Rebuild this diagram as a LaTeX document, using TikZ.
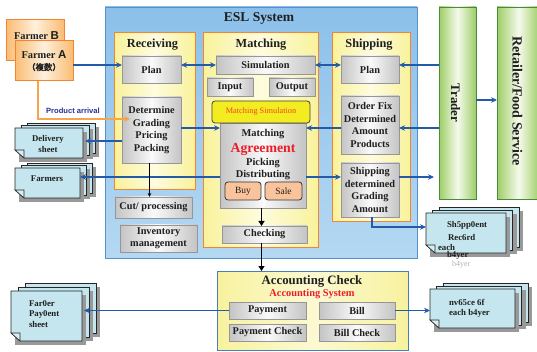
\documentclass[tikz,border=0pt]{standalone}
\usepackage{fontspec}
\setmainfont{Liberation Serif}
\newfontfamily\hsans{Liberation Sans}
\newfontfamily\cjk[AutoFakeBold=2]{Noto Sans CJK JP}
\usetikzlibrary{arrows.meta,calc}
\definecolor{eslblue}{RGB}{140,192,234}
\definecolor{eslblue2}{RGB}{180,216,242}
\definecolor{eslborder}{RGB}{85,145,205}
\definecolor{pyellow}{RGB}{249,242,155}
\definecolor{pyellowc}{RGB}{254,252,222}
\definecolor{porange}{RGB}{242,132,50}
\definecolor{gedge}{RGB}{196,196,196}
\definecolor{gmid}{RGB}{250,250,250}
\definecolor{gborder}{RGB}{150,150,150}
\definecolor{arrblue}{RGB}{35,90,170}
\definecolor{gredge}{RGB}{158,205,102}
\definecolor{grmid}{RGB}{245,250,236}
\definecolor{grborder}{RGB}{70,140,60}
\definecolor{farmedge}{RGB}{249,188,115}
\definecolor{farmmid}{RGB}{254,240,220}
\definecolor{docfill}{RGB}{197,230,238}
\definecolor{simyellow}{RGB}{243,236,32}
\definecolor{buyfill}{RGB}{249,196,155}
\definecolor{redtxt}{RGB}{235,30,40}
\definecolor{simred}{RGB}{240,70,30}
\definecolor{acctfill}{RGB}{247,242,158}
\definecolor{acctmid}{RGB}{252,249,210}
\definecolor{acctborder}{RGB}{75,125,190}
\definecolor{prodblue}{RGB}{40,50,150}
\definecolor{orangeline}{RGB}{247,165,75}
\newcommand\myfs[2]{\fontsize{#1}{#2}\selectfont\bfseries}
\newcommand\DocStack[6]{%
  \foreach \k in {2,1}{%
    \fill[black!40] ({#1+\k*#5+4},{#2+\k*#6+4}) rectangle ({#3+\k*#5+4},{#4+\k*#6+4});
    \filldraw[docpage] ({#1+\k*#5},{#2+\k*#6}) rectangle ({#3+\k*#5},{#4+\k*#6});
  }
  \fill[black!40] ({#1+4},{#2+4}) rectangle ({#3+4},{#4+4});
  \filldraw[docpage] (#1,#2) -- (#3,#2) -- (#3,#4) -- ({#1+9},#4) -- (#1,{#4-8}) -- cycle;
  \filldraw[docpage, fill=docfill!70!white] (#1,{#4-8}) -- ({#1+9},{#4-8}) -- ({#1+9},#4) -- cycle;
}
\tikzset{
  every node/.style={inner sep=0pt, outer sep=0pt, text=black!88},
  eslbox/.style={draw=eslborder, line width=0.8pt, top color=eslblue, bottom color=eslblue2},
  panel/.style={draw=porange, line width=1pt, left color=pyellow, right color=pyellow, middle color=pyellowc},
  gbox/.style={draw=gborder, line width=0.8pt, left color=gedge, right color=gedge, middle color=gmid, align=center, font=\myfs{10.3}{12.6}},
  greenbox/.style={draw=grborder, line width=0.9pt, left color=gredge, right color=gredge, middle color=grmid},
  farmbox/.style={draw=porange, line width=1pt, left color=farmedge, right color=farmedge, middle color=farmmid},
  simbox/.style={draw=black!75, line width=0.8pt, fill=simyellow, rounded corners=3pt},
  buybox/.style={draw=black!80, line width=0.8pt, fill=buyfill, rounded corners=3pt, font=\fontsize{9.5}{11}\selectfont},
  acctbox/.style={draw=acctborder, line width=1pt, left color=acctfill, right color=acctfill, middle color=acctmid},
  docpage/.style={draw=black!85, line width=0.6pt, fill=docfill},
  docarea/.style={draw=none},
  titletxt/.style={font=\myfs{12.3}{14}},
  doctxt/.style={font=\myfs{8.8}{10.8}},
  barrow/.style={draw=arrblue, line width=1.6pt, -{Stealth[length=6pt,width=5.5pt]}},
  bdarrow/.style={draw=arrblue, line width=1.6pt, {Stealth[length=6pt,width=5.5pt]}-{Stealth[length=6pt,width=5.5pt]}},
  karrow/.style={draw=black, line width=1.9pt, -{Triangle[length=5pt,width=6pt]}},
  thinarrow/.style={draw=black, line width=0.6pt, -{Stealth[length=4pt,width=3.5pt]}},
  oarrow/.style={draw=orangeline, line width=1.5pt, -{Stealth[length=6pt,width=5.5pt]}},
}
\begin{document}
\begin{tikzpicture}[x=1pt,y=-1pt]
\useasboundingbox (0,0) rectangle (537,352);
\clip (0,0) rectangle (537,352);
\fill[white] (0,0) rectangle (537,352);

% ESL system frame
\node[eslbox, minimum width=312pt, minimum height=251pt] (esl) at (261,132.5) {};
\node[font=\myfs{13.5}{15}] (esltitle) at (259,18) {ESL System};

% panels
\node[panel, minimum width=81pt, minimum height=157pt] (recv) at (154.5,111.5) {};
\node[panel, minimum width=115pt, minimum height=215pt] (match) at (260.5,140.5) {};
\node[panel, minimum width=78pt, minimum height=189pt] (ship) at (371,127.5) {};
\node[titletxt] (recvt) at (152.5,45) {Receiving};
\node[titletxt] (matcht) at (261,45) {Matching};
\node[titletxt] (shipt) at (369,45) {Shipping};

% receiving
\node[gbox, minimum width=59pt, minimum height=27pt] (rplan) at (151.5,69.5) {Plan};
\node[gbox, minimum width=59pt, minimum height=66pt] (det) at (151.5,130) {Determine\\Grading\\Pricing\\Packing};
\node[gbox, minimum width=77pt, minimum height=21pt] (cut) at (153.5,207.5) {Cut/ processing};
\node[gbox, minimum width=77pt, minimum height=27pt, font=\myfs{10.3}{12}] (inv) at (158.5,238.5) {Inventory\\management};

% matching
\node[gbox, minimum width=99pt, minimum height=18pt] (sim) at (265.5,65) {Simulation};
\node[gbox, minimum width=46pt, minimum height=18pt] (inp) at (230,87) {Input};
\node[gbox, minimum width=46pt, minimum height=18pt] (outp) at (292,87) {Output};
\node[gbox, minimum width=86pt, minimum height=85pt] (magree) at (263,165.5) {};
\node[simbox, minimum width=98pt, minimum height=22pt, font=\fontsize{8.3}{10}\selectfont, text=simred] (msim) at (261,112) {Matching Simulation};
\node[font=\myfs{10.4}{12}, anchor=base] (mt1) at (263,136.5) {Matching};
\node[font=\myfs{13.8}{15}, text=redtxt, anchor=base] (mt2) at (263,152.5) {Agreement};
\node[font=\myfs{10.4}{12}, anchor=base] (mt3) at (263,165.5) {Picking};
\node[font=\myfs{10.4}{12}, anchor=base] (mt4) at (263,178) {Distributing};
\node[buybox, minimum width=36pt, minimum height=18pt] (buy) at (243,191) {Buy};
\node[buybox, minimum width=37pt, minimum height=18pt] (sale) at (283.5,191) {Sale};
\node[gbox, minimum width=85pt, minimum height=17pt] (chk) at (264.5,234.5) {Checking};

% shipping
\node[gbox, minimum width=58pt, minimum height=27pt] (splan) at (370,69.5) {Plan};
\node[gbox, minimum width=58pt, minimum height=58pt] (ofix) at (370,125) {Order Fix\\Determined\\Amount\\Products};
\node[gbox, minimum width=58pt, minimum height=54pt] (sdet) at (370,190) {Shipping\\determined\\Grading\\Amount};

% trader / retailer
\node[greenbox, minimum width=37pt, minimum height=192pt] (trader) at (457.5,103) {};
\node[greenbox, minimum width=43pt, minimum height=192pt] (retail) at (518.5,103) {};
\node[rotate=-90, font=\myfs{13}{15}] (tradert) at (455.5,103) {Trader};
\node[rotate=-90, font=\myfs{14}{16}] (retailt) at (517.5,101) {Retailer/Food Service};

% farmers
\node[farmbox, minimum width=58pt, minimum height=41pt] (farmB) at (35,40.5) {};
\node[font=\myfs{10.4}{12}] (farmBt) at (36.5,35.5) {Farmer {\hsans\fontsize{11.5}{12}\selectfont B}};
\node[farmbox, minimum width=58pt, minimum height=40pt, align=center, font=\myfs{10.4}{11.5}] (farmA) at (44,61) {Farmer {\hsans\fontsize{11.5}{12}\selectfont A}\\{\cjk\fontsize{8.5}{9}\selectfont （複数）}};

% accounting
\node[acctbox, minimum width=191pt, minimum height=79pt] (acct) at (312.5,310.5) {};
\node[font=\myfs{12.8}{14}] (acctt) at (312,281.5) {Accounting Check};
\node[font=\myfs{10.4}{12}, text=redtxt] (accts) at (312,294) {Accounting System};
\node[gbox, minimum width=77pt, minimum height=17pt] (pay) at (267.5,310.5) {Payment};
\node[gbox, minimum width=76pt, minimum height=17pt] (bill) at (357,310.5) {Bill};
\node[gbox, minimum width=77pt, minimum height=17pt] (paychk) at (267.5,332.5) {Payment Check};
\node[gbox, minimum width=76pt, minimum height=17pt] (billchk) at (357,332.5) {Bill Check};

% documents
\DocStack{15}{128}{83}{158}{6}{-2.5}
\node[docarea, minimum width=68pt, minimum height=30pt] (deliv) at (49,143) {};
\node[doctxt, align=center] (delivt) at (48,144) {Delivery\\sheet};
\DocStack{15}{168}{80}{198}{6}{-2.5}
\node[docarea, minimum width=65pt, minimum height=30pt] (farmers) at (47.5,183) {};
\node[doctxt] (farmerst) at (47,179) {Farmers};
\DocStack{11}{291}{82}{341}{7}{-4}
\node[docarea, minimum width=71pt, minimum height=50pt] (farmpay) at (46.5,316) {};
\node[doctxt, align=left, anchor=west] (farmpayt) at (29,314) {Far0er\\Pay0ent\\sheet};
\DocStack{426}{213}{506}{253}{6.5}{-3}
\node[docarea, minimum width=80pt, minimum height=40pt] (shiprec) at (466,233) {};
\node[doctxt, anchor=west] (sr1) at (447,225) {Sh5pp0ent};
\node[doctxt, anchor=west] (sr2) at (448,237) {Rec6rd};
\node[doctxt, anchor=west] (sr3) at (438,247) {each};
\node[doctxt, anchor=west] (sr4) at (447,255.5) {b4yer};
\node[font=\fontsize{8}{9}\selectfont, text=black!30, anchor=west] (sr5) at (452,265) {b4yer};
\DocStack{430}{289}{515}{328}{6.5}{-3}
\node[docarea, minimum width=85pt, minimum height=39pt] (invoice) at (472.5,308.5) {};
\node[doctxt, anchor=west] (iv1) at (449,302) {nv65ce 6f};
\node[doctxt, anchor=west] (iv2) at (449,313) {each b4yer};

% connectors
\draw[barrow] (farmA.east |- 0,65) -- (rplan.west |- 0,65);
\draw[bdarrow] (rplan.east |- sim.west) -- (sim.west);
\draw[bdarrow] (sim.east) -- (splan.west |- sim.east);
\draw[barrow] (trader.west |- sim.east) -- (splan.east |- sim.east);
\draw[barrow] (trader.west |- 0,128) -- (ofix.east |- 0,128);
\draw[barrow] (ofix.west |- 0,128) -- (magree.east |- 0,128);
\draw[barrow] (det.east |- 0,128) -- (magree.west |- 0,128);
\draw[barrow] (det.west |- 0,141) -- ([xshift=2pt]deliv.east |- 0,141);
\draw[barrow] (magree.west |- 0,177) -- (farmers.east |- 0,177);
\draw[barrow] (magree.east |- 0,177) -- (sdet.west |- 0,177);
\draw[barrow, shorten >=5pt] (sdet.east |- 0,177) -- (trader.west |- 0,177);
\draw[barrow] (trader.east |- 0,100) -- (retail.west |- 0,100);
\draw[barrow] (sdet.south -| 372,0) |- (shiprec.west |- 0,227);
\draw[thinarrow] (det.south -| 149.5,0) -- (cut.north -| 149.5,0);
\draw[karrow] (magree.south -| 261.5,0) -- (chk.north -| 261.5,0);
\draw[karrow] (chk.south -| 261.5,0) -- (acct.north -| 261.5,0);
\draw[barrow] (pay.west) -- ([xshift=2pt]farmpay.east |- pay.west);
\draw[barrow] (bill.east) -- (invoice.west |- bill.east);
\draw[oarrow, shorten >=-8pt] (farmA.south -| 38,0) |- (det.west |- 0,119);
\node[font=\hsans\bfseries\fontsize{7.6}{9}\selectfont, text=prodblue] (prodt) at (73,111) {Product arrival};
\end{tikzpicture}
\end{document}
